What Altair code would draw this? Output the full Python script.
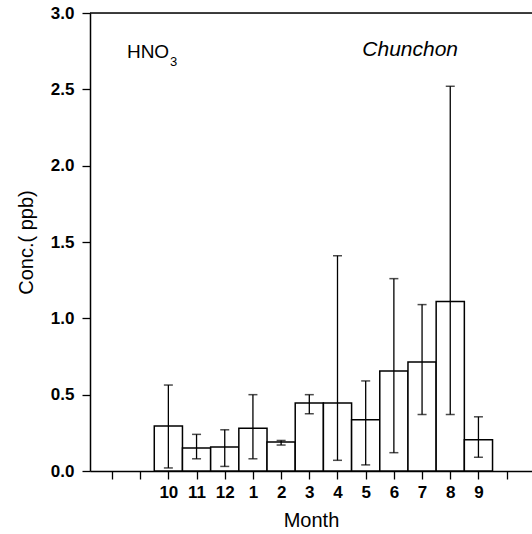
import altair as alt
import pandas as pd

months = ["10", "11", "12", "1", "2", "3", "4", "5", "6", "7", "8", "9"]
positions = [2, 3, 4, 5, 6, 7, 8, 9, 10, 11, 12, 13]
conc = [0.295, 0.15, 0.157, 0.28, 0.19, 0.445, 0.445, 0.335, 0.655, 0.714, 1.11, 0.205]
err_high = [0.563, 0.24, 0.27, 0.50, 0.20, 0.50, 1.41, 0.59, 1.26, 1.09, 2.52, 0.355]
err_low = [0.02, 0.08, 0.03, 0.08, 0.17, 0.375, 0.07, 0.04, 0.12, 0.37, 0.37, 0.09]
tick_positions = list(range(0, 15))
y_ticks = [0.0, 0.5, 1.0, 1.5, 2.0, 2.5, 3.0]

df = pd.DataFrame({
    "month": months,
    "pos": positions,
    "x0": [p - 0.5 for p in positions],
    "x1": [p + 0.5 for p in positions],
    "conc": conc,
    "hi": err_high,
    "lo": err_low,
})

label_map = {p: m for p, m in zip(positions, months)}
label_expr = "{" + ",".join(f"'{p}':'{m}'" for p, m in label_map.items()) + "}[datum.value] || ''"

FONT = "Liberation Sans"
xscale = alt.Scale(domain=[-0.78, 14.9], nice=False, zero=False)
yscale = alt.Scale(domain=[0, 3.0], nice=False)

x_axis = alt.Axis(
    title="Month", values=tick_positions, labelExpr=label_expr,
    labelOverlap=False, labelFlush=False,
    grid=False, domainColor="black", domainWidth=1.5, tickColor="black",
    tickWidth=1.3, tickSize=8, labelFont=FONT, labelFontWeight="bold",
    labelFontSize=17, labelColor="black", labelPadding=5,
    titleFont=FONT, titleFontSize=20, titleFontWeight="normal",
    titleColor="black", titlePadding=10)
y_axis = alt.Axis(
    title="Conc.( ppb)", values=y_ticks, format=".1f",
    labelOverlap=False, labelFlush=False,
    grid=False, domainColor="black", domainWidth=1.5, tickColor="black",
    tickWidth=1.3, tickSize=8, labelFont=FONT, labelFontWeight="bold",
    labelFontSize=17, labelColor="black", labelPadding=8,
    titleFont=FONT, titleFontSize=20, titleFontWeight="normal",
    titleColor="black", titlePadding=14)


def X(field):
    return alt.X(field, scale=xscale, axis=x_axis)


def Y(field):
    return alt.Y(field, scale=yscale, axis=y_axis)


bars = alt.Chart(df).mark_rect(fill="white", stroke="black", strokeWidth=1.5).encode(
    x=X("x0:Q"), x2="x1:Q", y=Y("conc:Q"), y2=alt.datum(0))

whisk = alt.Chart(df).mark_rule(color="black", strokeWidth=1.3).encode(
    x=X("pos:Q"), y=Y("lo:Q"), y2="hi:Q")

cap_hi = alt.Chart(df).mark_tick(orient="horizontal", color="black", size=9, thickness=1.5).encode(
    x=X("pos:Q"), y=Y("hi:Q"))
cap_lo = alt.Chart(df).mark_tick(orient="horizontal", color="black", size=9, thickness=1.5).encode(
    x=X("pos:Q"), y=Y("lo:Q"))

top_line = alt.Chart(pd.DataFrame({"y": [3.0]})).mark_rule(color="black", strokeWidth=1.5).encode(
    y=Y("y:Q"))

label_text = ["HNO", "Chunchon"]
label_x = [0.53, 8.88]
label_y = [2.744, 2.757]
sub_text = ["3"]
sub_x = [2.06]
sub_y = [2.68]

t1 = alt.Chart(pd.DataFrame({"x": label_x[:1], "y": label_y[:1], "t": label_text[:1]})).mark_text(
    font=FONT, fontSize=19, align="left", baseline="middle", color="black").encode(
    x=X("x:Q"), y=Y("y:Q"), text="t:N")
t_sub = alt.Chart(pd.DataFrame({"x": sub_x, "y": sub_y, "t": sub_text})).mark_text(
    font=FONT, fontSize=13, align="left", baseline="middle", color="black").encode(
    x=X("x:Q"), y=Y("y:Q"), text="t:N")
t2 = alt.Chart(pd.DataFrame({"x": label_x[1:], "y": label_y[1:], "t": label_text[1:]})).mark_text(
    font=FONT, fontSize=21, fontStyle="italic", align="left", baseline="middle", color="black").encode(
    x=X("x:Q"), y=Y("y:Q"), text="t:N")

chart = alt.layer(bars, whisk, cap_hi, cap_lo, top_line, t1, t_sub, t2).properties(
    width=442, height=458,
    autosize=alt.AutoSizeParams(type="none"),
    padding={"left": 90, "top": 13, "right": 0, "bottom": 63},
).configure_view(stroke=None).configure(background="white")

chart.save("out.html", embed_options={"renderer": "svg", "actions": False})
